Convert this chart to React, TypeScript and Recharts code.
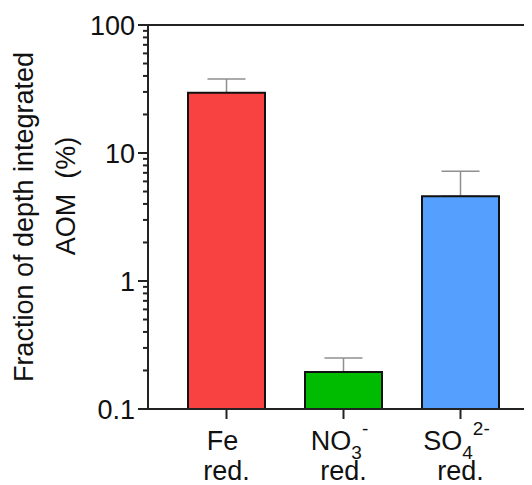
import React from "react";
import {
  ComposedChart,
  Bar,
  Cell,
  XAxis,
  YAxis,
  ErrorBar,
  ReferenceLine,
  Label,
} from "recharts";

const CATEGORIES = ["Fe red.", "NO3- red.", "SO42- red."];
const LABEL_MAIN = ["Fe", "NO", "SO"];
const LABEL_SUB = ["", "3", "4"];
const LABEL_SUP = ["", "-", "2-"];
const LABEL_SECOND = ["red.", "red.", "red."];
const VALUES = [29.6, 0.195, 4.6];
const ERR_UP = [8.3, 0.055, 2.6];
const COLORS = ["#F84141", "#00BC00", "#55A0FF"];
const MAJOR_TICKS = [0.1, 1, 10, 100];
const MAJOR_LABELS = ["0.1", "1", "10", "100"];
const ALL_TICKS = [
  0.1, 0.2, 0.3, 0.4, 0.5, 0.6, 0.7, 0.8, 0.9,
  1, 2, 3, 4, 5, 6, 7, 8, 9,
  10, 20, 30, 40, 50, 60, 70, 80, 90,
  100,
];
const TITLE_LINE1 = "Fraction of depth integrated";
const TITLE_LINE2 = "AOM  (%)";

const FONT = "'Liberation Sans', Arial, Helvetica, sans-serif";
const INK = "#222";
const Y_TICK_SIZE = 10;
const Y_TICK_MARGIN = 3;

const data = CATEGORIES.map((cat, i) => ({
  cat,
  value: VALUES[i],
  err: [0, ERR_UP[i]],
}));

const YTick = (props: any) => {
  const { x, y, payload } = props;
  const v = payload.value;
  const idx = MAJOR_TICKS.findIndex((m) => Math.abs(m - v) < 1e-9);
  const axisX = x + Y_TICK_SIZE + Y_TICK_MARGIN;
  const len = idx >= 0 ? Y_TICK_SIZE : 5;
  return (
    <g>
      <line x1={axisX - len} x2={axisX} y1={y} y2={y} stroke={INK} strokeWidth={2} />
      {idx >= 0 && (
        <text
          x={x}
          y={y}
          dy="0.36em"
          textAnchor="end"
          fontSize={27}
          fontFamily={FONT}
          fill="#111"
        >
          {MAJOR_LABELS[idx]}
        </text>
      )}
    </g>
  );
};

const XTick = (props: any) => {
  const { x, y, payload } = props;
  const i = CATEGORIES.indexOf(payload.value);
  if (i < 0) return <g />;
  return (
    <g fontFamily={FONT} fill="#111">
      <text x={x} y={y} dy={29} dx={-4} textAnchor="middle" fontSize={27}>
        <tspan>{LABEL_MAIN[i]}</tspan>
        {LABEL_SUB[i] && (
          <tspan fontSize={19} dy={9}>
            {LABEL_SUB[i]}
          </tspan>
        )}
        {LABEL_SUP[i] && (
          <tspan fontSize={19} dy={-24}>
            {LABEL_SUP[i]}
          </tspan>
        )}
      </text>
      <text x={x} y={y} dy={59} textAnchor="middle" fontSize={27}>
        {LABEL_SECOND[i]}
      </text>
    </g>
  );
};

const TitleLabel = (props: any) => {
  const vb = props.viewBox || { x: 0, y: 25, width: 148, height: 384 };
  const cy = vb.y + vb.height / 2;
  const x1 = vb.x + 33;
  const x2 = vb.x + 75;
  return (
    <g fontFamily={FONT} fill="#111" fontSize={27}>
      <text
        x={x1}
        y={cy}
        textAnchor="middle"
        transform={`rotate(-90, ${x1}, ${cy})`}
      >
        {TITLE_LINE1}
      </text>
      <text
        x={x2}
        y={cy}
        dx={21}
        textAnchor="middle"
        style={{ whiteSpace: "pre" }}
        transform={`rotate(-90, ${x2}, ${cy})`}
      >
        {TITLE_LINE2}
      </text>
    </g>
  );
};

export default function App() {
  return (
    <div
      style={{
        width: 532,
        height: 485,
        overflow: "hidden",
        marginLeft: -8,
        marginTop: -8,
        background: "#fff",
      }}
    >
      <ComposedChart
        width={560}
        height={485}
        data={data}
        margin={{ top: 25, right: 21, bottom: 0, left: 0 }}
      >
        <XAxis
          dataKey="cat"
          height={76}
          padding={{ left: 20, right: 20 }}
          interval={0}
          tickSize={10}
          tickMargin={2}
          axisLine={{ stroke: INK, strokeWidth: 2 }}
          tickLine={{ stroke: INK, strokeWidth: 2 }}
          tick={<XTick />}
        />
        <YAxis
          width={148}
          scale="log"
          domain={[0.1, 100]}
          allowDataOverflow
          ticks={ALL_TICKS}
          interval={0}
          tickSize={Y_TICK_SIZE}
          tickMargin={Y_TICK_MARGIN}
          tickLine={false}
          axisLine={{ stroke: INK, strokeWidth: 2 }}
          tick={<YTick />}
        >
          <Label content={<TitleLabel />} />
        </YAxis>
        <ReferenceLine y={100} stroke={INK} strokeWidth={2} />
        <Bar
          dataKey="value"
          barSize={77}
          stroke="#111"
          strokeWidth={2}
          isAnimationActive={false}
        >
          {data.map((d, i) => (
            <Cell key={d.cat} fill={COLORS[i]} />
          ))}
          <ErrorBar
            dataKey="err"
            direction="y"
            width={19}
            stroke="#8f8f8f"
            strokeWidth={1.5}
            isAnimationActive={false}
            zIndex={250}
          />
        </Bar>
      </ComposedChart>
    </div>
  );
}
